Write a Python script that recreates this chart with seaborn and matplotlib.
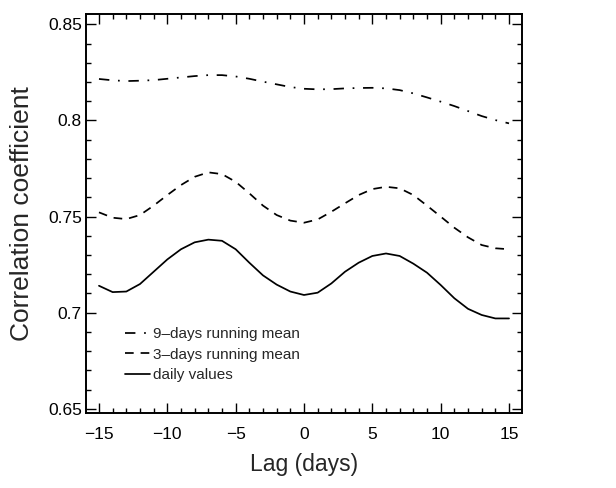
import numpy as np
import pandas as pd
import matplotlib
matplotlib.use("Agg")
import matplotlib.pyplot as plt
from matplotlib.ticker import MultipleLocator
import seaborn as sns

lags = list(range(-15, 16))
daily = [0.714, 0.7107, 0.711, 0.7149, 0.7213, 0.7277, 0.733, 0.7366, 0.738, 0.7374,
         0.733, 0.726, 0.7194, 0.7146, 0.711, 0.7092, 0.7104, 0.7152, 0.7213, 0.726,
         0.7295, 0.7308, 0.7295, 0.7255, 0.7208, 0.7144, 0.7075, 0.702, 0.6988, 0.697, 0.697]
mean3 = [0.7522, 0.7494, 0.7487, 0.7508, 0.7557, 0.7612, 0.7664, 0.7707, 0.773, 0.7721,
         0.7681, 0.7621, 0.7557, 0.7508, 0.7479, 0.7468, 0.7485, 0.7525, 0.7569, 0.7612,
         0.7643, 0.7655, 0.7647, 0.7612, 0.7557, 0.75, 0.7442, 0.7392, 0.7352, 0.7335, 0.733]
mean9 = [0.8216, 0.8209, 0.8205, 0.8207, 0.821, 0.8217, 0.8224, 0.8231, 0.8236, 0.8236,
         0.8229, 0.8217, 0.8202, 0.8188, 0.8174, 0.8165, 0.8162, 0.8163, 0.8167, 0.8169,
         0.817, 0.8167, 0.8158, 0.8141, 0.812, 0.8098, 0.8075, 0.8049, 0.8023, 0.8002, 0.7985]
labels = ["9\u2013days running mean", "3\u2013days running mean", "daily values"]
x_ticks = [-15, -10, -5, 0, 5, 10, 15]
y_ticks = [0.65, 0.7, 0.75, 0.8, 0.85]
y_tick_labels = ["0.65", "0.7", "0.75", "0.8", "0.85"]

sns.set_style("ticks")
plt.rcParams['font.family'] = ['Liberation Sans', 'DejaVu Sans']

fig = plt.figure(figsize=(6.16, 4.88), dpi=100)
ax = fig.add_axes([0.1396, 0.1537, 0.7078, 0.8176])

series = [(mean9, labels[0], (0, (6, 5, 1, 5))),
          (mean3, labels[1], (0, (5, 4))),
          (daily, labels[2], '-')]
for vals, lab, ls in series:
    df = pd.DataFrame({"lag": lags, "r": vals})
    sns.lineplot(data=df, x="lag", y="r", ax=ax, color="black", lw=1.25,
                 linestyle=ls, label=lab)

ax.set_xlim(-15.95, 15.95)
ax.set_ylim(0.6478, 0.8554)
ax.set_xticks(x_ticks)
ax.set_xticklabels([str(v).replace('-', '\u2212') for v in x_ticks])
ax.set_yticks(y_ticks)
ax.set_yticklabels(y_tick_labels)
ax.xaxis.set_minor_locator(MultipleLocator(1))
ax.yaxis.set_minor_locator(MultipleLocator(0.01))
ax.tick_params(which='both', direction='in', top=True, right=True,
               width=1.0, color='black', labelcolor='black', labelsize=12.5)
ax.tick_params(which='major', length=7)
ax.tick_params(which='minor', length=3.6)
ax.tick_params(axis='x', which='major', pad=10)
ax.tick_params(axis='y', which='major', pad=3)
for s in ax.spines.values():
    s.set_linewidth(1.4)
    s.set_color('black')

ax.set_xlabel("Lag (days)", fontsize=16.5, labelpad=8)
ax.set_ylabel("Correlation coefficient", fontsize=19, labelpad=10)

ax.legend(loc='upper left', bbox_to_anchor=(0.09, 0.215), frameon=False,
          fontsize=11, handlelength=1.6, handletextpad=0.2, labelspacing=0.42,
          borderpad=0, borderaxespad=0)

fig.savefig("out.png", dpi=100)
